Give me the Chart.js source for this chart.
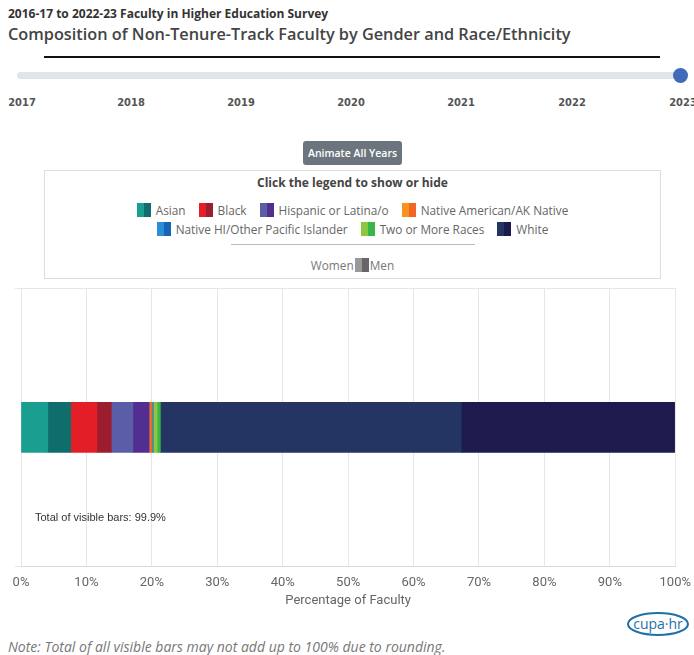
<!DOCTYPE html>
<html>
<head>
<meta charset="utf-8">
<script src="https://cdn.jsdelivr.net/npm/chart.js@4.4.0/dist/chart.umd.min.js"></script>
<style>
body { margin: 0; width: 694px; height: 655px; position: relative; background: #fff; font-family: "Open Sans", sans-serif; overflow: hidden; }
.sub { position: absolute; left: 8px; top: 5px; font-size: 12px; font-weight: 700; color: #333; }
.title { position: absolute; left: 8px; top: 23px; font-size: 16.3px; font-weight: 600; color: #444; }
.rule { position: absolute; left: 44px; top: 56px; width: 616px; height: 2px; background: #111; }
.track { position: absolute; left: 17px; top: 72px; width: 664px; height: 7px; border-radius: 4px; background: #e1e4ea; }
.knob { position: absolute; left: 673px; top: 68px; width: 15px; height: 15px; border-radius: 50%; background: #3f6bb8; }
.yr { position: absolute; top: 96px; font: bold 11px "Liberation Sans Narrow", "DejaVu Sans Condensed", sans-serif; color: #555; transform: translateX(-50%); }
.btn { position: absolute; left: 303px; top: 141px; width: 99px; height: 24px; background: #6c757d; color: #fff; border-radius: 3px; font-size: 10.5px; font-weight: 600; line-height: 24px; text-align: center; }
.legend { position: absolute; left: 44px; top: 170px; width: 615px; height: 107px; border: 1px solid #ddd; color: #666; font-size: 11.8px; }
.lhead { position: absolute; top: 3px; width: 100%; text-align: center; font-weight: 700; color: #444; font-size: 12px; }
.lrow { position: absolute; width: 100%; display: flex; justify-content: center; gap: 13px; }
.item { display: flex; align-items: center; }
.sw { display: inline-flex; width: 14px; height: 14px; margin-right: 5px; }
.sw i { flex: 1; }
.ldiv { position: absolute; left: 186px; top: 73px; width: 244px; height: 1px; background: #bbb; }
.sex { position: absolute; top: 86px; width: 100%; display: flex; justify-content: center; align-items: center; color: #777; }
#wrap { position: absolute; left: 0; top: 282px; width: 699px; height: 327px; }
.logo { position: absolute; left: 626px; top: 611px; width: 64px; height: 26px; }
.note { position: absolute; left: 8px; top: 637px; font-size: 14px; font-style: italic; color: #777; }
</style>
</head>
<body>
<div class="sub">2016-17 to 2022-23 Faculty in Higher Education Survey</div>
<div class="title">Composition of Non-Tenure-Track Faculty by Gender and Race/Ethnicity</div>
<div class="rule"></div>
<div class="track"></div>
<div class="knob"></div>
<div id="years"></div>
<div class="btn">Animate All Years</div>
<div class="legend">
  <div class="lhead">Click the legend to show or hide</div>
  <div class="lrow" id="row1" style="top:31px"></div>
  <div class="lrow" id="row2" style="top:50px"></div>
  <div class="ldiv"></div>
  <div class="sex">Women<span class="sw" style="margin:0 1px 0 1px"><i style="background:#999"></i><i style="background:#666"></i></span>Men</div>
</div>
<div id="wrap"><canvas id="chart"></canvas></div>
<svg class="logo" viewBox="0 0 64 26">
  <ellipse cx="32" cy="13" rx="30" ry="11" fill="none" stroke="#1f6fa8" stroke-width="2"/>
  <text x="32" y="18" text-anchor="middle" font-family="Open Sans" font-size="14" fill="#1f6fa8">cupa·hr</text>
</svg>
<div class="note">Note: Total of all visible bars may not add up to 100% due to rounding.</div>

<script>
const years = ['2017', '2018', '2019', '2020', '2021', '2022', '2023'];
const yearX = [22, 131, 241, 351, 461, 572, 683];

const groups = ['Asian', 'Black', 'Hispanic or Latina/o', 'Native American/AK Native',
                'Native HI/Other Pacific Islander', 'Two or More Races', 'White'];
const womenColors = ['#1a9e8f', '#e31e26', '#5a5ea6', '#f7941d', '#2a8fd6', '#8dc63f', '#243463'];
const menColors   = ['#0f6e6b', '#9c1e2e', '#522e91', '#f26522', '#1665b3', '#39b54a', '#1d1a4d'];

// 2023 shares, percent of non-tenure-track faculty
const womenPct = [4.1, 4.0, 3.3, 0.1, 0.1, 0.6, 46.0];
const menPct   = [3.5, 2.2, 2.5, 0.3, 0.1, 0.5, 32.6];

const xTicks = [0, 10, 20, 30, 40, 50, 60, 70, 80, 90, 100];

// slider year labels
const yb = document.getElementById('years');
years.forEach((y, i) => {
    const s = document.createElement('span');
    s.className = 'yr';
    s.style.left = yearX[i] + 'px';
    s.textContent = y;
    yb.appendChild(s);
});

// html legend
groups.forEach((g, i) => {
    const row = document.getElementById(i < 4 ? 'row1' : 'row2');
    const it = document.createElement('span');
    it.className = 'item';
    it.innerHTML = `<span class="sw"><i style="background:${womenColors[i]}"></i><i style="background:${menColors[i]}"></i></span>${g}`;
    row.appendChild(it);
});

const datasets = [];
groups.forEach((g, i) => {
    datasets.push({ label: g + ' Women', data: [womenPct[i]], backgroundColor: womenColors[i] });
    datasets.push({ label: g + ' Men', data: [menPct[i]], backgroundColor: menColors[i] });
});

const totalLabel = {
    id: 'totalLabel',
    afterDraw(chart) {
        const { ctx, chartArea } = chart;
        let sum = 0;
        chart.data.datasets.forEach((d, i) => { if (chart.isDatasetVisible(i)) sum += d.data[0]; });
        ctx.save();
        ctx.font = '11px "Liberation Sans", Arial, sans-serif';
        ctx.fillStyle = '#333';
        ctx.textBaseline = 'middle';
        ctx.fillText(`Total of visible bars: ${sum.toFixed(1)}%`, chartArea.left + 14, 236);
        ctx.restore();
    },
};

new Chart(document.getElementById('chart'), {
    type: 'bar',
    data: { labels: ['2023'], datasets },
    options: {
        indexAxis: 'y',
        responsive: true,
        maintainAspectRatio: false,
        animation: false,
        layout: { padding: { top: 6, left: 15, right: 0 } },
        plugins: { legend: { display: false }, tooltip: { enabled: false } },
        datasets: { bar: { barThickness: 50 } },
        scales: {
            x: {
                stacked: true,
                min: 0,
                max: 100,
                afterBuildTicks: axis => { axis.ticks = xTicks.map(v => ({ value: v })); },
                grid: { color: '#e6e6e6', tickLength: 0, drawTicks: false },
                border: { color: '#dcdcdc' },
                ticks: { color: '#666', font: { family: 'Roboto', size: 13 }, padding: 8, callback: v => v + '%' },
                title: { display: true, text: 'Percentage of Faculty', color: '#666', font: { family: 'Roboto', size: 13 }, padding: { top: -5, bottom: 0 } },
            },
            y: {
                stacked: true,
                grid: { color: '#e6e6e6', tickLength: 6 },
                border: { display: false },
                ticks: { display: false },
            },
        },
    },
    plugins: [totalLabel],
});
</script>
</body>
</html>
